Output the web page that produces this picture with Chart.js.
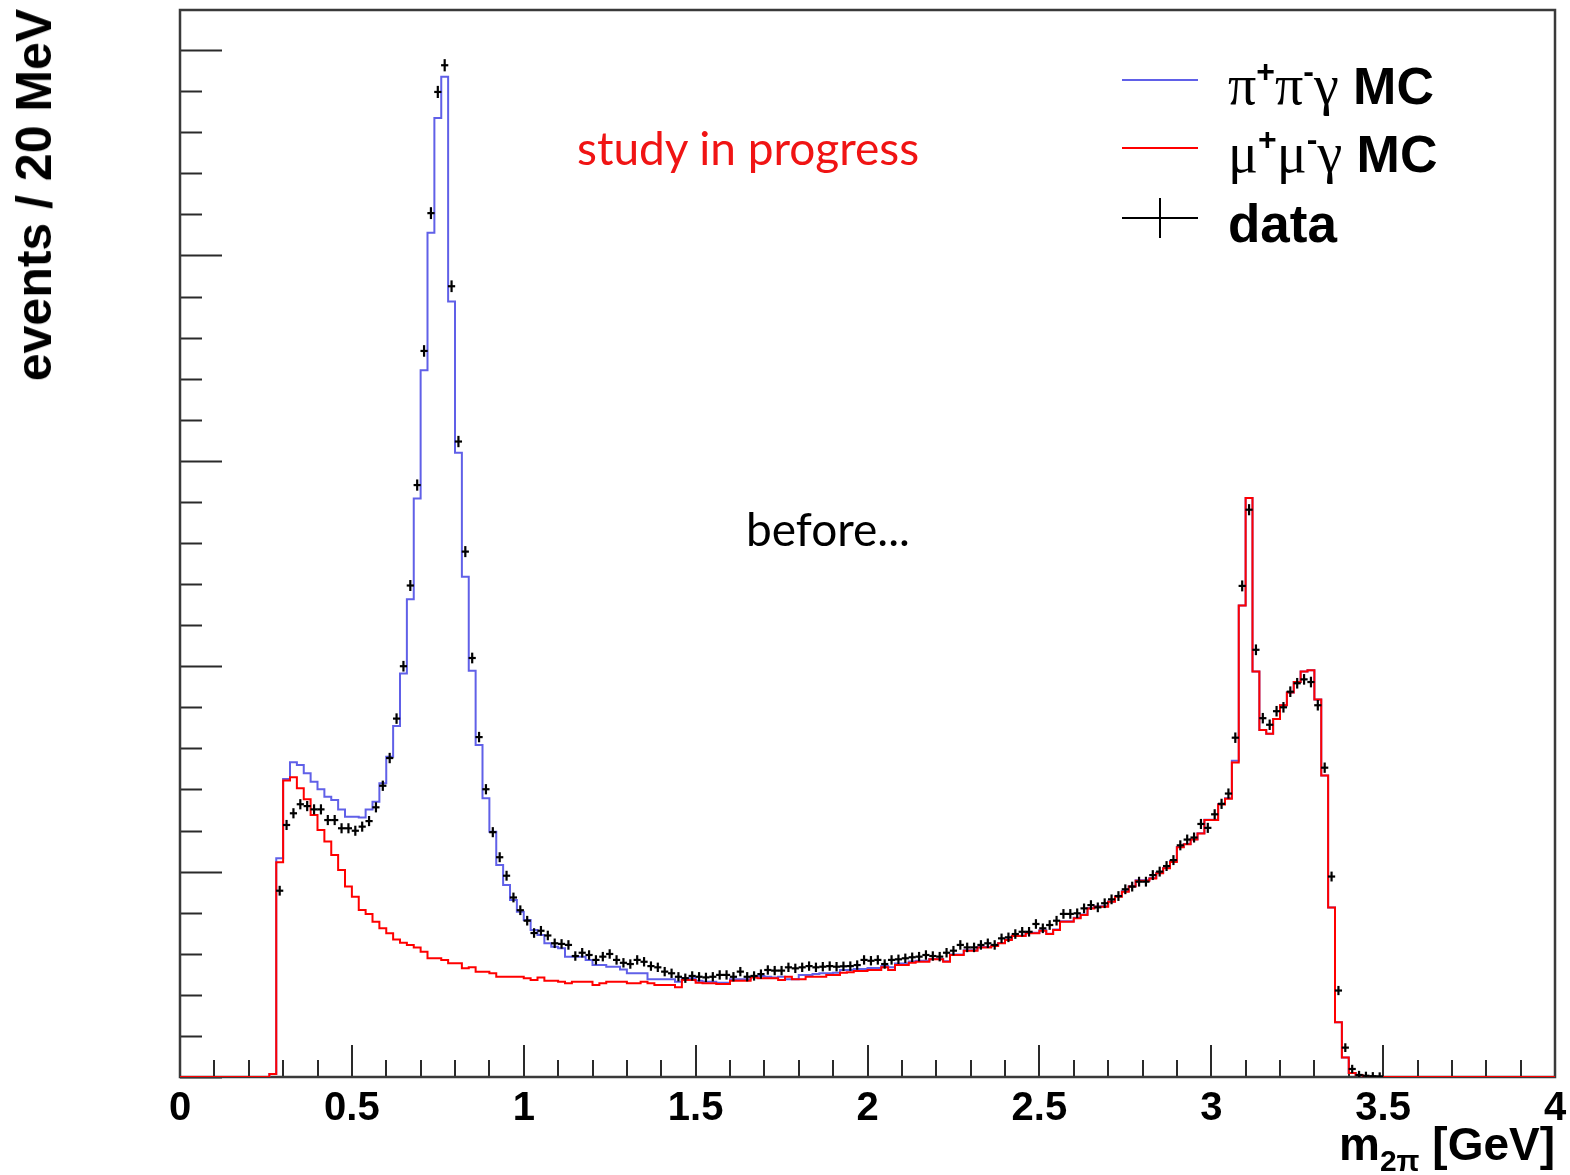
<!DOCTYPE html>
<html>
<head>
<meta charset="utf-8">
<script src="https://cdn.jsdelivr.net/npm/chart.js@4.4.1/dist/chart.umd.min.js"></script>
<style>
  body { margin: 0; background: #fff; }
  #wrap { position: relative; width: 1570px; height: 1175px; overflow: hidden; background: #fff; }
  #plot { position: absolute; left: 0; top: 0; }
  .txt { position: absolute; white-space: nowrap; line-height: 1; }
  .ytitle { left: 34px; top: 195px; transform: translate(-50%, -50%) rotate(-90deg);
            font: bold 50px 'Liberation Sans', Arial, sans-serif; color: #000; }
  .xtitle { right: 15px; top: 1117px; font: bold 46px 'Liberation Sans', Arial, sans-serif; }
  .xtitle .sub { font-size: 30px; position: relative; top: 11px; }
  .note { font: 46px Lato, 'Open Sans', sans-serif; }
  .leg { left: 1228px; font: bold 52px 'Liberation Sans', Arial, sans-serif; }
  .leg .gr { font: 56px 'Liberation Serif', 'Times New Roman', serif; }
  .leg .sup { font: bold 32px 'Liberation Sans', Arial, sans-serif; position: relative; top: -22px; }
  .sample { position: absolute; }
</style>
</head>
<body>
<div id="wrap">
  <canvas id="plot" width="1570" height="1175"></canvas>

  <div class="txt ytitle">events / 20 MeV</div>
  <div class="txt xtitle">m<span class="sub">2π</span> [GeV]</div>

  <div class="txt note" style="left:577px; top:120px; color:#f01414;">study in progress</div>
  <div class="txt note" style="left:746px; top:501px; color:#000;">before...</div>

  <div class="sample" style="left:1122px; top:79px; width:76px; height:2px; background:#6060e8;"></div>
  <div class="txt leg" style="top:53px;"><span class="gr">π</span><span class="sup">+</span><span class="gr">π</span><span class="sup">-</span><span class="gr">γ</span> MC</div>

  <div class="sample" style="left:1122px; top:147px; width:76px; height:2px; background:#ff0000;"></div>
  <div class="txt leg" style="top:121px;"><span class="gr">μ</span><span class="sup">+</span><span class="gr">μ</span><span class="sup">-</span><span class="gr">γ</span> MC</div>

  <div class="sample" style="left:1122px; top:217px; width:76px; height:2px; background:#000;"></div>
  <div class="sample" style="left:1159px; top:198px; width:2px; height:40px; background:#000;"></div>
  <div class="txt leg" style="top:193px; font-size:53px;">data</div>
</div>

<script>
// m(2 tracks) spectrum, 20 MeV bins
const BIN_WIDTH = 0.02;
const X_MIN = 0, X_MAX = 4;
const X_TICKS = [0, 0.5, 1, 1.5, 2, 2.5, 3, 3.5, 4];
const Y_MAX = 5195;
const Y_MAJOR = 1000, Y_MINOR = 200;

// MC histograms start at the 0.26 GeV bin edge
const MC_FIRST_EDGE = 0.26;
const pipiMC = [
  15, 1065, 1451, 1532, 1519, 1479, 1438, 1401, 1365, 1349,
  1303, 1267, 1267, 1264, 1303, 1340, 1430, 1559, 1709, 1965,
  2326, 2816, 3441, 4110, 4669, 4870, 3776, 3039, 2436, 1978,
  1616, 1357, 1194, 1032, 935, 862, 805, 764, 716, 691,
  651, 634, 627, 586, 586, 586, 570, 545, 545, 537,
  537, 524, 505, 505, 505, 476, 476, 476, 476, 464,
  481, 481, 469, 464, 464, 459, 459, 476, 476, 476,
  488, 492, 488, 485, 488, 476, 476, 497, 497, 501,
  505, 505, 508, 521, 521, 526, 526, 531, 531, 540,
  534, 552, 552, 562, 566, 566, 575, 575, 564, 596,
  596, 617, 617, 633, 633, 640, 653, 669, 688, 688,
  702, 702, 714, 698, 718, 758, 758, 775, 791, 823,
  831, 831, 855, 880, 904, 929, 958, 958, 969, 994,
  1018, 1052, 1120, 1135, 1158, 1187, 1253, 1253, 1329, 1357,
  1540, 2296, 2819, 1974, 1690, 1671, 1743, 1810, 1872, 1923,
  1974, 1980, 1838, 1468, 825, 266, 95, 19, 10
];
const mumuMC = [
  15, 1045, 1443, 1459, 1406, 1352, 1276, 1203, 1146, 1081,
  1008, 927, 878, 813, 794, 756, 724, 700, 670, 654,
  643, 631, 610, 578, 578, 570, 554, 554, 529, 534,
  513, 513, 505, 488, 488, 488, 488, 481, 472, 485,
  469, 469, 464, 456, 464, 464, 464, 448, 456, 464,
  464, 464, 456, 456, 464, 456, 448, 448, 448, 437,
  472, 472, 459, 456, 456, 453, 453, 469, 469, 469,
  485, 481, 481, 481, 472, 488, 476, 476, 488, 488,
  488, 497, 497, 508, 510, 516, 516, 521, 521, 534,
  521, 545, 545, 556, 561, 561, 573, 573, 561, 594,
  594, 615, 615, 631, 631, 638, 651, 667, 686, 686,
  700, 700, 712, 696, 716, 756, 756, 773, 789, 821,
  829, 829, 853, 878, 902, 927, 956, 956, 967, 992,
  1016, 1047, 1118, 1133, 1156, 1185, 1251, 1251, 1327, 1355,
  1531, 2296, 2819, 1974, 1690, 1671, 1743, 1810, 1872, 1923,
  1974, 1980, 1838, 1468, 825, 266, 95, 19, 10
];

// data points start in the 0.28 GeV bin
const DATA_FIRST_EDGE = 0.28;
const dataCounts = [
  907, 1227, 1284, 1328, 1319, 1303, 1303, 1251, 1251, 1211,
  1211, 1199, 1219, 1246, 1313, 1418, 1553, 1745, 2000, 2393,
  2882, 3535, 4206, 4796, 4926, 3850, 3094, 2558, 2040, 1655,
  1401, 1192, 1070, 980, 874, 812, 761, 701, 712, 689,
  651, 648, 643, 589, 605, 594, 570, 586, 599, 570,
  556, 550, 570, 561, 540, 534, 513, 505, 488, 481,
  492, 488, 485, 488, 497, 497, 488, 513, 488, 492,
  501, 521, 518, 518, 534, 529, 534, 540, 534, 537,
  540, 537, 539, 540, 545, 570, 566, 570, 550, 570,
  573, 578, 583, 586, 594, 589, 586, 605, 615, 643,
  631, 631, 643, 651, 643, 675, 680, 696, 707, 707,
  745, 724, 740, 761, 794, 794, 797, 821, 837, 826,
  846, 865, 881, 914, 927, 951, 951, 983, 1000, 1027,
  1056, 1128, 1156, 1166, 1232, 1213, 1279, 1330, 1380, 1652,
  2391, 2762, 2080, 1747, 1715, 1781, 1800, 1876, 1917, 1936,
  1923, 1810, 1506, 976, 421, 143, 39, 10, 6, 4,
  3
];

function histPoints(values, firstEdge) {
  const pts = [{ x: X_MIN, y: 0 }];
  values.forEach((v, i) => pts.push({ x: +(firstEdge + i * BIN_WIDTH).toFixed(2), y: v }));
  pts.push({ x: +(firstEdge + values.length * BIN_WIDTH).toFixed(2), y: 0 });
  pts.push({ x: X_MAX, y: 0 });
  return pts;
}

function binCentres(values, firstEdge) {
  return values.map((v, i) => ({ x: firstEdge + (i + 0.5) * BIN_WIDTH, y: v }));
}

// frame around the pad plus inward tick marks, ROOT style
const frameTicks = {
  id: 'frameTicks',
  beforeDatasetsDraw(chart) {
    const { ctx, chartArea: a, scales: { x, y } } = chart;
    ctx.save();
    ctx.strokeStyle = '#2a2a2a';
    ctx.lineWidth = 2;
    for (let k = 0; k * Y_MINOR <= Y_MAX; k++) {
      const v = k * Y_MINOR;
      const py = Math.round(y.getPixelForValue(v)) + 0.5;
      const len = v % Y_MAJOR === 0 ? 42 : 22;
      ctx.beginPath();
      ctx.moveTo(a.left, py);
      ctx.lineTo(a.left + len, py);
      ctx.stroke();
    }
    for (let k = 0; k <= 40; k++) {
      const px = Math.round(x.getPixelForValue(k / 10));
      const len = k % 5 === 0 ? 32 : 17;
      ctx.beginPath();
      ctx.moveTo(px, a.bottom);
      ctx.lineTo(px, a.bottom - len);
      ctx.stroke();
    }
    ctx.lineWidth = 2.5;
    ctx.strokeStyle = '#3a3a3a';
    ctx.strokeRect(a.left, a.top, a.right - a.left, a.bottom - a.top);
    ctx.restore();
  }
};

const dataPts = binCentres(dataCounts, DATA_FIRST_EDGE);

new Chart(document.getElementById('plot'), {
  type: 'line',
  data: {
    datasets: [
      {
        label: 'data',
        data: dataPts,
        showLine: false,
        pointStyle: 'line',
        pointRadius: 3.6,
        pointBorderWidth: 2.2,
        pointBorderColor: '#000'
      },
      {
        label: 'data errors',
        data: dataPts,
        showLine: false,
        pointStyle: 'line',
        pointRotation: 90,
        pointRadius: c => 4 + Math.sqrt(c.raw ? c.raw.y : 0) * 0.03,
        pointBorderWidth: 2.2,
        pointBorderColor: '#000'
      },
      {
        label: 'mu mu gamma MC',
        data: histPoints(mumuMC, MC_FIRST_EDGE),
        stepped: 'before',
        borderColor: '#ff0000',
        borderWidth: 2,
        pointRadius: 0,
        fill: false
      },
      {
        label: 'pi pi gamma MC',
        data: histPoints(pipiMC, MC_FIRST_EDGE),
        stepped: 'before',
        borderColor: '#6060e8',
        borderWidth: 2,
        pointRadius: 0,
        fill: false
      }
    ]
  },
  options: {
    responsive: false,
    animation: false,
    layout: { padding: { top: 10, right: 15, left: 0, bottom: 0 } },
    plugins: { legend: { display: false }, tooltip: { enabled: false } },
    scales: {
      x: {
        type: 'linear',
        min: X_MIN,
        max: X_MAX,
        afterBuildTicks: s => { s.ticks = X_TICKS.map(v => ({ value: v })); },
        grid: { display: false, drawTicks: false },
        border: { display: false },
        ticks: {
          color: '#000',
          padding: 8,
          maxRotation: 0,
          autoSkip: false,
          callback: v => String(v),
          font: { family: "'Liberation Sans', Arial, sans-serif", weight: 'bold', size: 40 }
        },
        afterFit: s => { s.height = 98; s.paddingRight = 0; }
      },
      y: {
        min: 0,
        max: Y_MAX,
        grid: { display: false, drawTicks: false },
        border: { display: false },
        ticks: { display: false },
        afterFit: s => { s.width = 180; }
      }
    }
  },
  plugins: [frameTicks]
});
</script>
</body>
</html>
